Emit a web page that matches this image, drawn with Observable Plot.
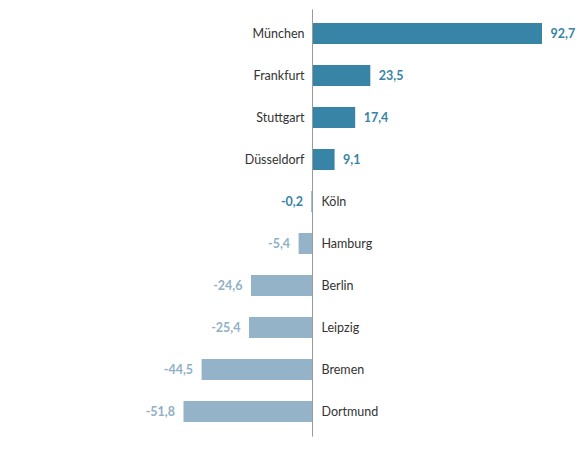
<!DOCTYPE html>
<html>
<head>
<meta charset="utf-8">
<script src="https://cdn.jsdelivr.net/npm/d3@7"></script>
<script src="https://cdn.jsdelivr.net/npm/@observablehq/plot@0.6"></script>
<style>
  html, body { margin: 0; padding: 0; background: #fff; }
  #chart svg { display: block; }
</style>
</head>
<body>
<div id="chart"></div>
<script>
// Cities and their change values
const cities = ["München", "Frankfurt", "Stuttgart", "Düsseldorf", "Köln", "Hamburg", "Berlin", "Leipzig", "Bremen", "Dortmund"];
const changes = [92.7, 23.5, 17.4, 9.1, -0.2, -5.4, -24.6, -25.4, -44.5, -51.8];

const darkBlue = "#3784a6";
const lightBlue = "#94b3c9";
const lightText = "#8fb0c6";

const rows = cities.map((city, i) => ({city, change: changes[i]}));
const up = rows.filter(d => d.change > 0);
const down = rows.filter(d => d.change <= 0);
// Near-zero changes keep the dark tone
const isUp = d => d.change > -1;
const fmt = v => v.toFixed(1).replace(".", ",");

const chart = Plot.plot({
  width: 584,
  height: 451,
  marginLeft: 183.5,
  marginRight: 42,
  marginTop: 1.4,
  marginBottom: 7.4,
  style: {fontFamily: "Lato, 'Open Sans', sans-serif", fontSize: "12.5px", background: "#fff"},
  x: {domain: [-51.8, 92.7], axis: null},
  y: {domain: cities, padding: 0.5, axis: null},
  marks: [
    Plot.barX(rows, {
      x: "change",
      y: "city",
      fill: d => isUp(d) ? darkBlue : lightBlue
    }),
    Plot.ruleX([0], {stroke: "#9a9a9a", strokeWidth: 1, insetTop: 8, insetBottom: 7}),
    // city names on the opposite side of the bar
    Plot.text(up, {x: 0, y: "city", text: "city", dx: -8, textAnchor: "end", fill: "#333"}),
    Plot.text(down, {x: 0, y: "city", text: "city", dx: 9, textAnchor: "start", fill: "#333"}),
    // value labels at the bar ends
    Plot.text(up, {
      x: "change", y: "city", text: d => fmt(d.change),
      dx: 8, textAnchor: "start", fill: darkBlue, fontWeight: "bold"
    }),
    Plot.text(down, {
      x: "change", y: "city", text: d => fmt(d.change),
      dx: -9, textAnchor: "end",
      fill: d => isUp(d) ? darkBlue : lightText, fontWeight: "bold"
    })
  ]
});

document.getElementById("chart").appendChild(chart);
</script>
</body>
</html>
